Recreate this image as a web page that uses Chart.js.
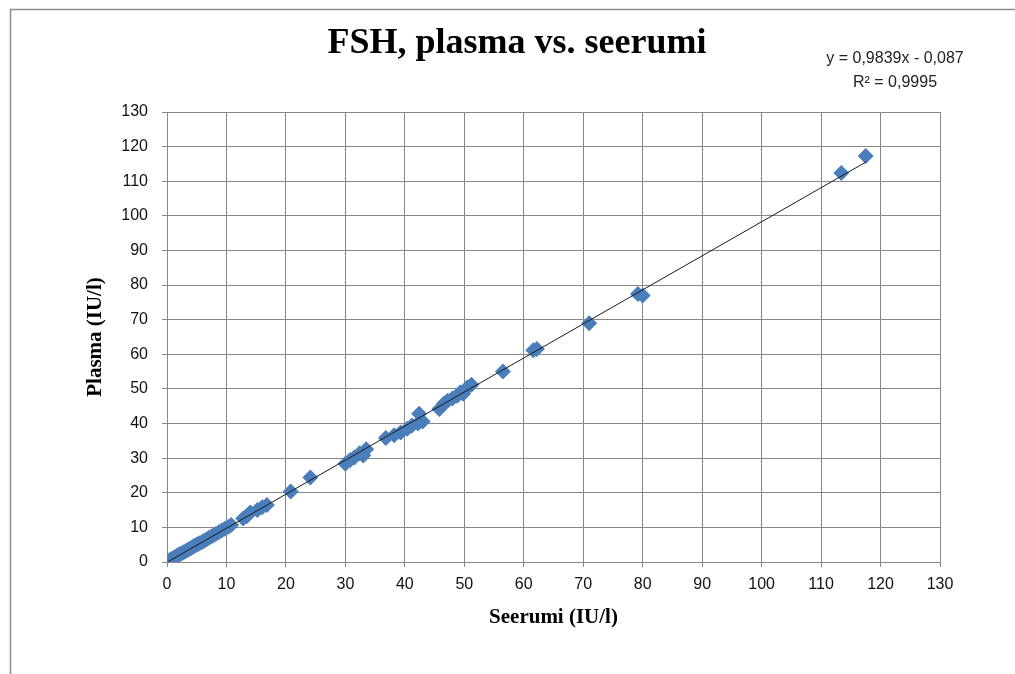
<!DOCTYPE html>
<html>
<head>
<meta charset="utf-8">
<script src="https://cdn.jsdelivr.net/npm/chart.js@4/dist/chart.umd.min.js"></script>
<style>
  html, body { margin: 0; padding: 0; background: #fff; }
  #wrap { width: 1015px; height: 674px; }
</style>
</head>
<body>
<div id="wrap"><canvas id="fshChart" width="1015" height="674"></canvas></div>
<script>
// ===== Data =====
const serumValues = [
    0.2, 0.5, 0.8, 1.0, 1.3, 1.6, 1.9, 2.2, 2.5, 2.8, 3.1, 3.4, 3.7, 4.0, 4.3,
    4.6, 4.9, 5.2, 5.5, 5.9, 6.2, 6.6, 7.0, 7.4, 7.8, 8.2, 8.7, 9.2, 9.7, 10.3,
    10.8, 12.8, 13.4, 14.0, 15.2, 16.0, 16.8, 20.8, 24.1,
    30.0, 30.8, 31.5, 32.4, 33.0, 33.5, 36.8, 38.2, 39.3, 40.4, 41.2, 42.2, 42.4, 43.0,
    45.8, 46.6, 47.2, 48.0, 48.8, 49.3, 49.8, 50.5, 51.2,
    56.5, 61.6, 62.2, 71.0, 79.2, 80.0, 113.4, 117.5
];
const plasmaValues = [
    0.3, 0.6, 0.9, 1.1, 1.4, 1.7, 2.0, 2.3, 2.5, 2.8, 3.1, 3.4, 3.7, 4.0, 4.3,
    4.6, 4.9, 5.2, 5.4, 5.8, 6.1, 6.5, 6.9, 7.3, 7.7, 8.1, 8.6, 9.1, 9.6, 10.1,
    10.7, 12.6, 13.2, 14.3, 15.0, 15.8, 16.5, 20.4, 24.4,
    28.4, 29.5, 30.2, 31.4, 30.8, 32.6, 35.8, 36.6, 37.4, 38.5, 39.4, 40.0, 42.8, 40.6,
    44.2, 45.8, 46.6, 47.2, 48.0, 49.0, 48.6, 50.4, 51.2,
    55.0, 61.2, 61.5, 69.0, 77.4, 77.0, 112.4, 117.3
];
const trendX = [0.2, 117.6];
const trendY = [0.11, 115.6];
const axisTicks = [0, 10, 20, 30, 40, 50, 60, 70, 80, 90, 100, 110, 120, 130];

const chartTitle = "FSH, plasma vs. seerumi";
const equationLines = ["y = 0,9839x - 0,087", "R² = 0,9995"];
const xTitle = "Seerumi (IU/l)";
const yTitle = "Plasma (IU/l)";

const gridColor = "#878787";
const markerColor = "#4a7ebb";
const tickFont = { family: "Liberation Sans", size: 16 };
const axisTitleFont = { family: "Liberation Serif", size: 21, weight: "bold" };

// ===== Frame, title and trend equation =====
const decorations = {
    id: "decorations",
    beforeDraw(chart) {
        const ctx = chart.ctx;
        ctx.save();
        ctx.fillStyle = "#fff";
        ctx.fillRect(0, 0, chart.width, chart.height);
        ctx.strokeStyle = "#8c8c8c";
        ctx.lineWidth = 1.5;
        ctx.beginPath();
        ctx.moveTo(10.5, chart.height + 2);
        ctx.lineTo(10.5, 9.5);
        ctx.lineTo(chart.width + 2, 9.5);
        ctx.stroke();
        ctx.restore();
    },
    afterDraw(chart) {
        const ctx = chart.ctx;
        ctx.save();
        ctx.fillStyle = "#000";
        ctx.textAlign = "center";
        ctx.textBaseline = "middle";
        ctx.font = "bold 36px 'Liberation Serif'";
        ctx.fillText(chartTitle, 517, 44);
        ctx.font = "16px 'Liberation Sans'";
        ctx.fillStyle = "#222";
        ctx.fillText(equationLines[0], 895, 59);
        ctx.fillText(equationLines[1], 895, 83);
        ctx.restore();
    }
};

const ctx = document.getElementById("fshChart");
new Chart(ctx, {
    type: "scatter",
    data: {
        datasets: [
            {
                label: "trend",
                data: trendX.map((x, i) => ({ x: x, y: trendY[i] })),
                showLine: true,
                borderColor: "#1a1a1a",
                borderWidth: 1,
                pointRadius: 0,
                order: 0
            },
            {
                label: "FSH",
                data: serumValues.map((x, i) => ({ x: x, y: plasmaValues[i] })),
                pointStyle: "rectRot",
                pointRadius: 8,
                backgroundColor: markerColor,
                borderColor: markerColor,
                borderWidth: 0,
                order: 1
            }
        ]
    },
    options: {
        responsive: false,
        animation: false,
        layout: { padding: { left: 83, right: 75, top: 112, bottom: 44 } },
        plugins: {
            legend: { display: false },
            tooltip: { enabled: false },
            title: { display: false }
        },
        scales: {
            x: {
                type: "linear",
                min: 0,
                max: 130,
                afterBuildTicks: (scale) => { scale.ticks = axisTicks.map(v => ({ value: v })); },
                afterFit: (scale) => { scale.height = 68; },
                ticks: { color: "#111", font: tickFont, padding: 8 },
                grid: { color: gridColor, lineWidth: 1, tickLength: 5 },
                border: { color: gridColor },
                title: { display: true, text: xTitle, color: "#000", font: axisTitleFont, padding: 0 }
            },
            y: {
                type: "linear",
                min: 0,
                max: 130,
                afterBuildTicks: (scale) => { scale.ticks = axisTicks.map(v => ({ value: v })); },
                afterFit: (scale) => { scale.width = 84; },
                ticks: { color: "#111", font: tickFont, padding: 14 },
                grid: { color: gridColor, lineWidth: 1, tickLength: 5 },
                border: { color: gridColor },
                title: { display: true, text: yTitle, color: "#000", font: axisTitleFont, padding: 0 }
            }
        }
    },
    plugins: [decorations]
});
</script>
</body>
</html>
